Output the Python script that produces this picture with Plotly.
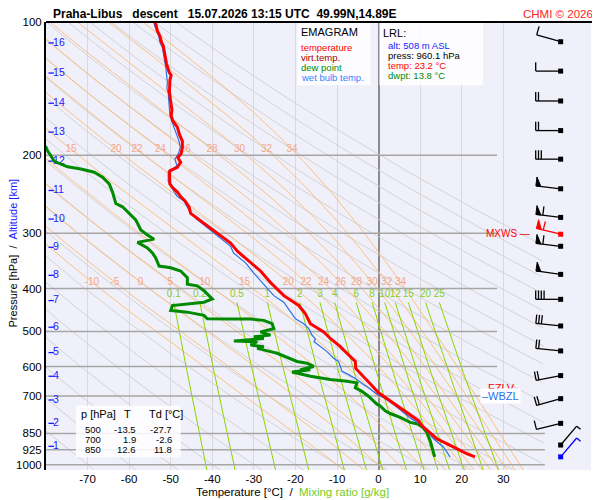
import numpy as np
import plotly.graph_objects as go

# ---- sounding (p in hPa, T in degC) ----
temp_p = [100, 104.7, 107.5, 111.2, 113.1, 117.9, 124.3, 129.7, 131.9, 135.4, 143.8, 151.3, 157.9, 162.8,
          167.1, 172.7, 179.5, 185.8, 192.2, 198.4, 202.3, 207.3, 213.0, 216.8, 220.4, 232.1, 236.9, 242.2,
          248.1, 253.2, 261.5, 270.7, 277.7, 287.4, 294.9, 305.1, 315.7, 329.9, 344.6, 365.1, 387.8, 415.1,
          436.9, 456.3, 480.3, 492.7, 501.1, 518.7, 541.2, 569.8, 584.6, 606.1, 624.9, 656.2, 687.9, 717.8,
          742.9, 768.6, 795.4, 816.0, 844.6, 873.7, 896.4, 919.7, 943.9, 960.1]
temp_t = [-53.7, -53.2, -52.6, -52.2, -51.8, -51.5, -51.0, -50.4, -49.9, -50.2, -50.3, -50.0, -49.7, -49.9,
          -49.5, -48.4, -47.9, -47.2, -47.2, -47.5, -48.3, -47.6, -48.4, -50.2, -50.3, -50.2, -49.5, -48.4,
          -47.6, -46.6, -45.6, -45.2, -43.6, -41.2, -39.6, -37.6, -35.6, -33.9, -31.6, -28.4, -26.0, -22.8,
          -19.2, -17.6, -16.4, -14.4, -13.2, -11.6, -9.2, -6.8, -5.6, -5.5, -4.1, -2.0, 0.0, 2.8,
          5.2, 7.6, 9.6, 10.4, 12.3, 14.0, 16.4, 18.8, 21.2, 23.2]

wetb_p = [100, 103.8, 107.5, 111.2, 114.1, 119.1, 126.4, 136.6, 141.3, 144.9, 151.3, 162.0, 169.0, 176.5,
          185.8, 192.2, 198.9, 204.1, 211.3, 217.6, 229.1, 238.1, 247.4, 253.8, 266.1, 277.7, 289.8, 300.0,
          310.5, 321.1, 332.4, 349.9, 368.3, 387.8, 415.1, 429.6, 444.7, 468.1, 480.3, 492.7, 509.7, 519.5,
          527.5, 536.5, 555.3, 574.8, 584.6, 599.9, 615.4, 625.9, 642.1, 658.9, 670.4, 693.5, 705.8, 730.1,
          762.4, 784.5, 809.0, 823.2, 844.6, 873.7, 912.2, 960.1]
wetb_t = [-54.1, -53.6, -52.9, -52.6, -52.0, -51.6, -51.2, -50.8, -50.9, -50.6, -50.4, -50.2, -49.6, -48.8,
          -48.0, -47.7, -48.2, -49.0, -48.5, -50.6, -50.6, -49.6, -48.5, -46.8, -45.6, -44.0, -41.6, -39.6,
          -37.6, -35.6, -34.9, -32.0, -30.1, -28.0, -25.2, -22.8, -21.6, -20.0, -18.0, -16.8, -16.0, -15.2,
          -15.5, -14.4, -12.4, -10.8, -9.6, -9.2, -8.8, -7.2, -5.2, -3.6, -2.4, -0.4, 1.2, 3.6,
          6.0, 7.6, 9.9, 10.8, 11.9, 13.2, 15.6, 17.2]

dewp_p = [190.7, 195.6, 200.7, 206.5, 209.4, 212.4, 214.9, 218.5, 224.2, 232.1, 242.2, 257.1, 261.5, 270.7,
          276.3, 280.1, 284.9, 294.9, 302.7, 309.4, 314.6, 323.9, 332.4, 341.0, 355.9, 359.0, 365.1, 378.0,
          391.2, 394.4, 404.6, 422.4, 429.6, 437.0, 448.4, 452.3, 460.0, 468.1, 468.9, 468.9, 472.0, 480.3,
          492.7, 501.1, 509.7, 514.1, 518.7, 525.6, 527.5, 536.5, 541.2, 546.0, 555.3, 560.2, 584.6, 589.8,
          599.9, 610.1, 610.1, 617.6, 631.3, 642.1, 647.7, 653.4, 670.4, 681.8, 699.6, 730.1, 736.4, 755.7,
          766.3, 782.1, 802.4, 809.0, 823.2, 844.6, 881.3, 960.1]
dewp_t = [-80.1, -79.6, -78.8, -78.0, -76.4, -74.8, -71.6, -68.4, -66.4, -64.8, -64.0, -63.2, -61.6, -60.0,
          -58.9, -58.4, -58.0, -57.2, -55.6, -54.0, -58.0, -55.6, -54.4, -53.6, -52.8, -50.0, -47.6, -46.0,
          -46.0, -43.6, -42.0, -40.0, -42.0, -49.6, -50.0, -46.0, -42.0, -41.2, -35.6, -30.8, -27.6, -25.6,
          -25.2, -28.4, -26.0, -30.0, -27.6, -34.8, -29.2, -30.8, -27.6, -29.2, -26.0, -24.4, -19.6, -17.2,
          -15.6, -18.8, -16.4, -20.8, -16.4, -11.6, -7.6, -5.2, -5.6, -4.1, -2.5, -0.4, 0.4, 1.6,
          2.8, 5.2, 7.6, 9.4, 10.6, 11.6, 12.4, 13.5]

# winds (kt)
wind_p = [110.8, 129.1, 150.8, 175.9, 204.1, 238.1, 276.3, 321.1, 371.6, 423.1, 486.0, 553.3, 629.1, 709.4, 806.5, 902.8]
wind_dir = [286, 270, 270, 270, 270, 277, 277, 277, 278, 270, 276, 276, 259, 254, 256, 40]
wind_spd = [10, 10, 20, 20, 30, 50, 60, 60, 50, 40, 30, 20, 20, 20, 10, 5]
mxws_p, mxws_dir, mxws_spd = 301.6, 284, 60
sfc_p, sfc_dir, sfc_spd = 960.1, 40, 5

# launch point and summary table
lrl_alt, lrl_p, lrl_t, lrl_td = 508, 960.1, 23.2, 13.8
tab_p = [500, 700, 850]
tab_t = [-13.5, 1.9, 12.6]
tab_td = [-27.7, -2.6, 11.8]

# altitude scale
km_vals = list(range(1, 17))
km_p = [908.9, 806.5, 714.2, 631.3, 558.2, 489.2, 425.9, 373.5, 322.8, 278.7, 240.2, 206.2, 177.3, 152.6, 130.4, 111.5]

# diagram furniture
p_ticks = [100, 200, 300, 400, 500, 600, 700, 850, 925, 1000]
t_ticks = list(range(-70, 40, 10))
theta_dry = list(range(-70, 170, 10))
theta_w = [-10, -5, 0, 5, 10, 15, 20, 22, 24, 26, 28, 30, 32, 34]
mix_w = [0.1, 0.2, 0.5, 1, 2, 3, 4, 6, 8, 10, 12, 15, 20, 25]

XMIN, XMAX = -80, 51.1
PBOT = 1028
FONT = "Liberation Sans, Arial, sans-serif"


def joined(lines):
    xs, ys = [], []
    for x, y in lines:
        for a, b in zip(x, y):
            ok = np.isfinite(a) and np.isfinite(b)
            xs.append(float(a) if ok else None)
            ys.append(float(b) if ok else None)
        xs.append(None)
        ys.append(None)
    return xs, ys


def moist_lapse(T, p):
    tc = T - 273.15
    es = 6.112 * np.exp(17.67 * tc / (tc + 243.5))
    rs = 0.622 * es / (p - es)
    return (287.04 * T + 2.501e6 * rs) / (p * (1005.7 + 2.501e6 ** 2 * rs * 0.622 / (287.04 * T ** 2)))


def integrate(t0, ps):
    T = np.array(t0, float) + 273.15
    out = [T.copy()]
    for a, b in zip(ps[:-1], ps[1:]):
        dp = b - a
        k1 = moist_lapse(T, a)
        k2 = moist_lapse(T + 0.5 * dp * k1, a + 0.5 * dp)
        T = T + dp * k2
        out.append(T.copy())
    return np.array(out) - 273.15


def mix_t(w, p):
    e = w * p / (622 + w)
    a = np.log(e / 6.112)
    return 243.5 * a / (17.67 - a)


fig = go.Figure()

# dry adiabats
pf = np.geomspace(PBOT, 100, 200)
dry = []
for th in theta_dry:
    t = (th + 273.15) * (pf / 1000) ** 0.2857 - 273.15
    dry.append((np.where(t > 40, np.nan, t), pf))
x, y = joined(dry)
fig.add_trace(go.Scatter(x=x, y=y, mode="lines", line=dict(color="#cfcfcf", width=0.9), hoverinfo="skip"))

# saturated adiabats
ps_up = np.linspace(1000, 100, 901)
ps_dn = np.linspace(1000, PBOT, 29)
up = integrate(theta_w, ps_up)
dn = integrate(theta_w, ps_dn)
ps_all = np.concatenate([ps_dn[::-1], ps_up[1:]])
moist = []
lab_x, lab_y, lab_t = [], [], []
for i, tw in enumerate(theta_w):
    col = np.concatenate([dn[::-1, i], up[1:, i]])
    moist.append((col, ps_all))
    for pl in (387, 194):
        tl = np.interp(pl, ps_up[::-1], up[::-1, i])
        if tl > -78:
            lab_x.append(tl)
            lab_y.append(pl)
            lab_t.append(str(tw))
x, y = joined(moist)
fig.add_trace(go.Scatter(x=x, y=y, mode="lines", line=dict(color="#ffbb70", width=0.9), hoverinfo="skip"))
fig.add_trace(go.Scatter(x=lab_x, y=lab_y, text=lab_t, mode="text", textposition="middle center",
                         textfont=dict(family=FONT, size=10, color="#f4a688"), hoverinfo="skip"))

# mixing ratio lines
pm = np.geomspace(PBOT, 430, 60)
x, y = joined([(mix_t(w, pm), pm) for w in mix_w])
fig.add_trace(go.Scatter(x=x, y=y, mode="lines", line=dict(color="#8cd400", width=1), hoverinfo="skip"))
fig.add_trace(go.Scatter(x=[mix_t(w, 430.0) for w in mix_w], y=[413] * len(mix_w),
                         text=[f"{w:g}" for w in mix_w], mode="text", textposition="middle center",
                         textfont=dict(family=FONT, size=10, color="#88cc22"), hoverinfo="skip"))

# isobars
iso = [([XMIN, 40 if p >= 850 else 28.5], [p, p]) for p in p_ticks[1:]]
x, y = joined(iso)
fig.add_trace(go.Scatter(x=x, y=y, mode="lines", line=dict(color="#a6a6a6", width=1.5), hoverinfo="skip"))

# altitude ticks
x, y = joined([([-79.4, -78.1], [p, p]) for p in km_p])
fig.add_trace(go.Scatter(x=x, y=y, mode="lines", line=dict(color="#1a1aff", width=1.3), hoverinfo="skip"))
fig.add_trace(go.Scatter(x=[-78.3] * len(km_p), y=km_p, text=[str(k) for k in km_vals], mode="text",
                         textposition="middle right", textfont=dict(family=FONT, size=10.5, color="#1a1aff"),
                         hoverinfo="skip"))

# profiles
fig.add_trace(go.Scatter(x=dewp_t, y=dewp_p, mode="lines", line=dict(color="#008a00", width=3)))
fig.add_trace(go.Scatter(x=wetb_t, y=wetb_p, mode="lines", line=dict(color="#2a6ee8", width=1.2)))
fig.add_trace(go.Scatter(x=temp_t, y=temp_p, mode="lines", line=dict(color="#ff0000", width=3)))

# wind barbs
kx = 546 / (XMAX - XMIN)
ky = 454 / (np.log10(PBOT) - 2)
BARB_X = 43.8


def barb(p0, wdir, spd):
    ux, uy = np.sin(np.radians(wdir)), np.cos(np.radians(wdir))
    bx, by = uy, -ux

    def pt(a, b=0.0):
        dx = a * ux + b * bx
        dy = a * uy + b * by
        return BARB_X + dx / kx, p0 * 10 ** (-dy / ky)

    seg = [[pt(0), pt(25)]]
    tri = []
    pos = 25
    n50, rest = divmod(spd, 50)
    n10, rest = divmod(rest, 10)
    for _ in range(n50):
        tri.append([pt(pos), pt(pos, 9), pt(pos - 5), pt(pos)])
        pos -= 7
    for _ in range(n10):
        seg.append([pt(pos), pt(pos, 9)])
        pos -= 2.8
    if rest >= 5:
        seg.append([pt(pos), pt(pos, 5)])
    return seg, tri


def draw_barbs(ps, dirs, spds, color):
    segs, tris = [], []
    for p0, d, s in zip(ps, dirs, spds):
        a, b = barb(p0, d, s)
        segs += a
        tris += b
    x, y = joined([([q[0] for q in s], [q[1] for q in s]) for s in segs])
    fig.add_trace(go.Scatter(x=x, y=y, mode="lines", line=dict(color=color, width=1.3), hoverinfo="skip"))
    if tris:
        x, y = joined([([q[0] for q in s], [q[1] for q in s]) for s in tris])
        fig.add_trace(go.Scatter(x=x, y=y, mode="lines", fill="toself", fillcolor=color,
                                 line=dict(color=color, width=1), hoverinfo="skip"))
    fig.add_trace(go.Scatter(x=[BARB_X] * len(ps), y=ps, mode="markers",
                             marker=dict(symbol="square", size=5, color=color), hoverinfo="skip"))


draw_barbs(wind_p, wind_dir, wind_spd, "black")
draw_barbs([mxws_p], [mxws_dir], [mxws_spd], "#ff0000")
draw_barbs([sfc_p], [sfc_dir], [sfc_spd], "#0000ff")
fig.add_trace(go.Scatter(x=[36.4], y=[mxws_p], text=["MXWS \u2014"], mode="text", textposition="middle left",
                         textfont=dict(family=FONT, size=10, color="#ff0000"), hoverinfo="skip"))


# page pixels -> paper coordinates of the plot area (plot area spans x 45..591, y 16..470 on the page)
def px(v):
    return (v - 45) / 546


def py(v):
    return (470 - v) / 454


nb = "\u00a0"
ann = []


def txt(s, x, y, size=10, color="black", xa="left", **kw):
    ann.append(dict(text=s, x=px(x), y=py(y), xref="paper", yref="paper", showarrow=False,
                    xanchor=xa, yanchor="middle", font=dict(family=FONT, size=size, color=color), **kw))


txt(f"<b>Praha-Libus{nb*3}descent{nb*3}15.07.2026 13:15 UTC{nb*2}49.99N,14.89E</b>", 50, 7.5, size=12)
txt("CHMI \u00a9 2026", 595, 7.5, size=11.5, color="#ff2020", xa="right")

txt("EMAGRAM", 298, 26, size=11)
txt("temperature", 298, 42, size=9.5, color="#ff0000")
txt("virt.temp.", 298, 52, size=9.5, color="#a00000")
txt("dew point", 298, 62, size=9.5, color="#008a00")
txt("wet bulb temp.", 298, 72, size=9.5, color="#3a7fff")

txt("LRL:", 381, 27, size=11)
txt(f"alt: {lrl_alt} m ASL", 386, 40, size=9.5, color="#1a1aff")
txt(f"press: {lrl_p:.1f} hPa", 386, 50, size=9.5)
txt(f"temp: {lrl_t:.1f} \u00b0C", 386, 60, size=9.5, color="#ff0000")
txt(f"dwpt: {lrl_td:.1f} \u00b0C", 386, 70, size=9.5, color="#008a00")

txt("p [hPa]", 78, 413.5, size=11)
txt("T", 127, 413.5, size=11, xa="center")
txt("Td [\u00b0C]", 146.5, 413.5, size=11)
for i, (p, t, td) in enumerate(zip(tab_p, tab_t, tab_td)):
    yy = 429 + 10 * i
    txt(str(p), 102, yy, size=9.5, xa="right")
    txt(f"{t:.1f}", 137, yy, size=9.5, xa="right")
    txt(f"{td:.1f}", 173.5, yy, size=9.5, xa="right")

txt("\u2013FZLV", 480, 386.5, size=11, color="#ff0000")
txt("\u2013WBZL", 480, 395.5, size=11, color="#2a6ee8", bgcolor="white")

txt(f"Temperature [\u00b0C]{nb*2}/{nb*2}<span style='color:#77cc22'>Mixing ratio [g/kg]</span>", 292, 492,
    size=11.5, xa="center")
ann.append(dict(text=f"Pressure [hPa]{nb*2}/{nb*2}<span style='color:#1a1aff'>Altitude [km]</span>",
                x=px(11.5), y=py(250), xref="paper", yref="paper", showarrow=False, textangle=-90,
                xanchor="center", yanchor="middle", font=dict(family=FONT, size=11, color="black")))

shapes = [
    dict(type="rect", xref="paper", yref="paper", x0=px(297), x1=px(370), y0=py(80), y1=py(16.5),
         fillcolor="rgba(255,255,255,0.85)", line=dict(width=0), layer="above"),
    dict(type="rect", xref="paper", yref="paper", x0=px(379), x1=px(483), y0=py(80), y1=py(16.5),
         fillcolor="rgba(255,255,255,0.85)", line=dict(width=0), layer="above"),
    dict(type="rect", xref="paper", yref="paper", x0=px(75), x1=px(180), y0=py(457), y1=py(405),
         fillcolor="rgba(255,255,255,0.85)", line=dict(width=0), layer="above"),
    dict(type="line", xref="paper", yref="paper", x0=0, x1=1.002, y0=1, y1=1,
         line=dict(color="black", width=2)),
]

# the page adds an 8 px body margin, so the figure is 8 px smaller and margins shifted
fig.update_layout(
    width=592, height=492,
    margin=dict(l=37, r=9, t=8, b=30),
    paper_bgcolor="white", plot_bgcolor="#f0f0fb",
    showlegend=False,
    font=dict(family=FONT, size=11, color="black"),
    xaxis=dict(range=[XMIN, XMAX], tickvals=t_ticks, ticktext=[str(t) for t in t_ticks],
               showgrid=True, gridcolor="#d9d9d9", gridwidth=1,
               zeroline=True, zerolinecolor="#8c8c8c", zerolinewidth=1.5,
               showline=False, ticks="", tickfont=dict(size=11.5)),
    yaxis=dict(type="log", range=[np.log10(PBOT), 2], tickvals=p_ticks, ticktext=[str(p) for p in p_ticks],
               showgrid=False, zeroline=False, showline=True, linecolor="black", linewidth=2,
               ticks="", tickfont=dict(size=11.5)),
    annotations=ann,
    shapes=shapes,
)

fig.write_html("out.html")
